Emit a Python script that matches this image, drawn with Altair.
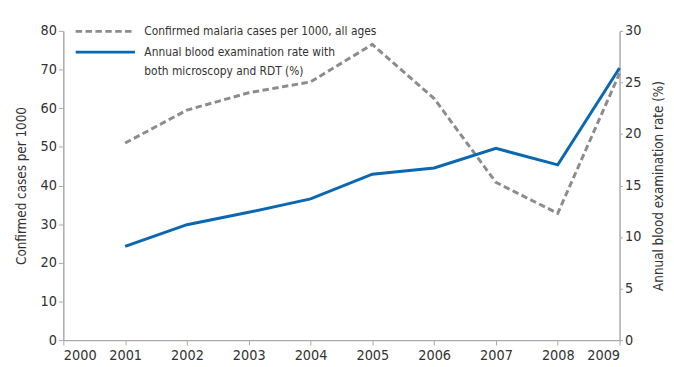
import altair as alt
import pandas as pd

years = [2001, 2002, 2003, 2004, 2005, 2006, 2007, 2008, 2009]
confirmed_cases = [51.0, 59.5, 64.0, 66.8, 76.5, 62.5, 40.8, 32.8, 69.0]
exam_rate = [9.1, 11.2, 12.4, 13.7, 16.1, 16.7, 18.6, 17.0, 26.4]

S1 = "Confirmed malaria cases per 1000, all ages"
S2 = "Annual blood examination rate with both microscopy and RDT (%)"
S2_LINES = ["Annual blood examination rate with", "both microscopy and RDT (%)"]

df = pd.DataFrame(
    {"year": years * 2,
     "value": confirmed_cases + exam_rate,
     "series": [S1] * len(years) + [S2] * len(years)}
)

FONT = "DejaVu Sans Condensed, DejaVu Sans, sans-serif"
GRAY = "#8c8c8c"
BLUE = "#0a67b1"
TXT = "#333333"
DASH = [6.5, 3.5]


def legend(y, dash=None, expr=None):
    kw = dict(
        title=None,
        orient="none",
        legendX=11,
        legendY=y,
        symbolType="stroke",
        symbolSize=3600,
        symbolStrokeWidth=3,
        labelFont=FONT,
        labelFontSize=12,
        labelColor=TXT,
        labelOffset=8,
        labelLimit=400,
        labelBaseline="middle",
    )
    if dash:
        kw["symbolDash"] = dash
    if expr:
        kw["labelExpr"] = expr
    return alt.Legend(**kw)


x = alt.X(
    "year:Q",
    scale=alt.Scale(domain=[2000, 2009], nice=False),
    axis=alt.Axis(title=None, values=list(range(2000, 2010)), format="d",
                  labelFontSize=14.5, tickSize=5, labelPadding=4),
)

left = alt.Chart(df).transform_filter(alt.datum.series == S1).mark_line(
    strokeWidth=3, strokeDash=DASH
).encode(
    x=x,
    y=alt.Y("value:Q", scale=alt.Scale(domain=[0, 80], nice=False),
            axis=alt.Axis(title="Confirmed cases per 1000", orient="left",
                          values=list(range(0, 81, 10)), tickSize=5, labelPadding=2,
                          labelFontSize=14.5, titleFontSize=13.5, titlePadding=12,
                          titleFontWeight="normal")),
    color=alt.Color("series:N", scale=alt.Scale(domain=[S1], range=[GRAY]),
                    legend=legend(-31, dash=DASH)),
)

right = alt.Chart(df).transform_filter(alt.datum.series == S2).mark_line(strokeWidth=3).encode(
    x=x,
    y=alt.Y("value:Q", scale=alt.Scale(domain=[0, 30], nice=False),
            axis=alt.Axis(title="Annual blood examination rate (%)", orient="right",
                          values=list(range(0, 31, 5)), tickSize=3, labelPadding=2,
                          labelFontSize=14.5, titleFontSize=13.5, titlePadding=11,
                          titleAngle=270, titleBaseline="top", titleFontWeight="normal")),
    color=alt.Color("series:N", scale=alt.Scale(domain=[S2], range=[BLUE]),
                    legend=legend(-10, expr="['" + S2_LINES[0] + "', '" + S2_LINES[1] + "']")),
)

chart = alt.layer(left, right).resolve_scale(y="independent", color="independent").properties(
    width=563, height=313,
    autosize=alt.AutoSizeParams(type="none"),
    padding={"left": 56, "top": 21, "right": 47, "bottom": 22},
).configure(
    style={"guide-label": {"lineHeight": 19}},
).configure_view(stroke=None).configure_axis(
    grid=False,
    domainColor="#aaaaaa",
    tickColor="#aaaaaa",
    domainWidth=1.5,
    labelColor=TXT,
    titleColor=TXT,
    labelFont=FONT,
    titleFont=FONT,
)

chart.save("out.html", embed_options={"renderer": "svg", "actions": False})
